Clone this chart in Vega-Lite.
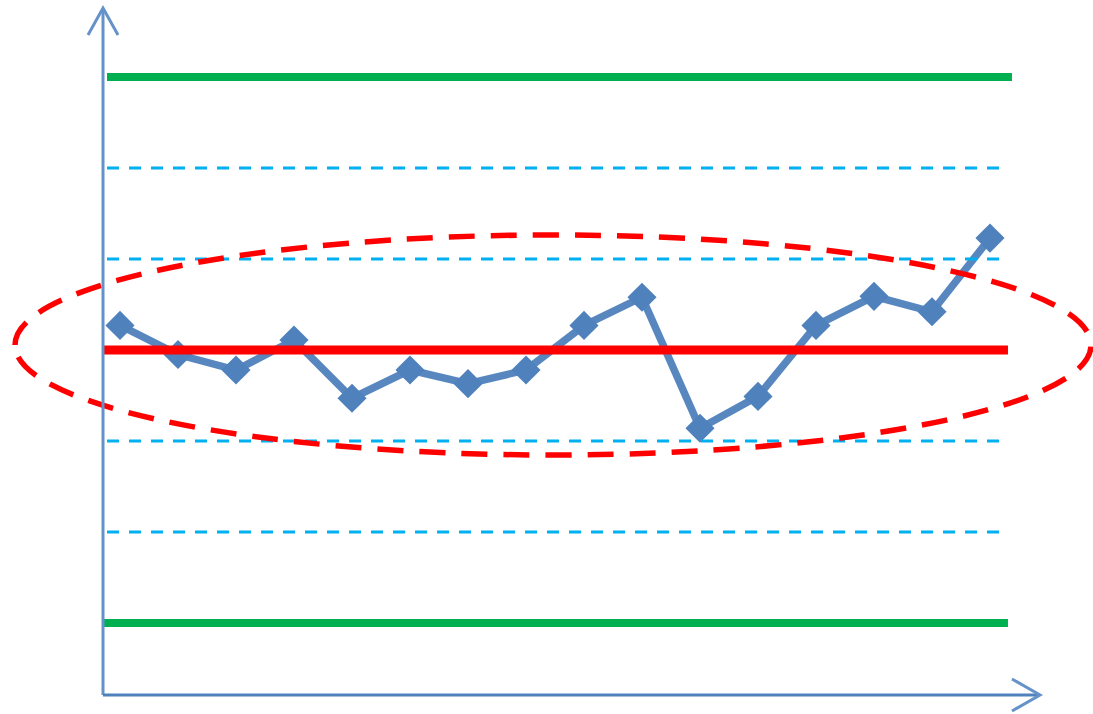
{
  "$schema": "https://vega.github.io/schema/vega-lite/v6.json",
  "width": 1093,
  "height": 714,
  "padding": 0,
  "autosize": {"type": "none"},
  "background": "white",
  "config": {"view": {"stroke": null}},
  "encoding": {
    "x": {"field": "x", "type": "quantitative", "scale": {"domain": [-1.069, 17.776], "nice": false, "zero": false}, "axis": null},
    "y": {"field": "y", "type": "quantitative", "scale": {"domain": [-4.0, 3.846], "nice": false, "zero": false}, "axis": null}
  },
  "layer": [
    {
      "data": {"values": [
        {"x": 1, "y": 0.27}, {"x": 2, "y": -0.05}, {"x": 3, "y": -0.22}, {"x": 4, "y": 0.11},
        {"x": 5, "y": -0.53}, {"x": 6, "y": -0.22}, {"x": 7, "y": -0.37}, {"x": 8, "y": -0.22},
        {"x": 9, "y": 0.27}, {"x": 10, "y": 0.58}, {"x": 11, "y": -0.86}, {"x": 12, "y": -0.51},
        {"x": 13, "y": 0.27}, {"x": 14, "y": 0.59}, {"x": 15, "y": 0.42}, {"x": 16, "y": 1.23}
      ]},
      "layer": [
        {"mark": {"type": "line", "color": "#4f81bd", "strokeWidth": 7.5, "opacity": 0.95}},
        {"mark": {"type": "point", "shape": "diamond", "filled": true, "size": 850, "color": "#4f81bd", "opacity": 1}}
      ]
    },
    {
      "data": {"values": [
        {"x": 0.776, "x2": 16.259, "y": 2},
        {"x": 0.776, "x2": 16.259, "y": 1},
        {"x": 0.776, "x2": 16.259, "y": -1},
        {"x": 0.776, "x2": 16.259, "y": -2}
      ]},
      "mark": {"type": "rule", "color": "#00b0f0", "strokeWidth": 3, "strokeDash": [12, 10]},
      "encoding": {"x2": {"field": "x2"}}
    },
    {
      "data": {"values": [{"x": 0.707, "x2": 16.31, "y": 0}]},
      "mark": {"type": "rule", "color": "#ff0000", "strokeWidth": 9},
      "encoding": {"x2": {"field": "x2"}}
    },
    {
      "data": {"values": [
        {"x": 0.776, "x2": 16.379, "y": 3},
        {"x": 0.707, "x2": 16.31, "y": -3}
      ]},
      "mark": {"type": "rule", "color": "#00b050", "strokeWidth": 8},
      "encoding": {"x2": {"field": "x2"}}
    },
    {
      "data": {"values": [{"x": 8.466, "y": 0.055}]},
      "mark": {
        "type": "point",
        "shape": "M -1 0 C -1 -0.1129 -0.5523 -0.2045 0 -0.2045 C 0.5523 -0.2045 1 -0.1129 1 0 C 1 0.1129 0.5523 0.2045 0 0.2045 C -0.5523 0.2045 -1 0.1129 -1 0 Z",
        "size": 1157776,
        "filled": false,
        "stroke": "#ff0000",
        "strokeWidth": 5.5,
        "strokeDash": [26, 16],
        "opacity": 1
      }
    },
    {
      "data": {"values": [{"x": 0.707, "y": -3.791, "y2": 3.758}]},
      "mark": {"type": "rule", "color": "#6592c9", "strokeWidth": 3},
      "encoding": {"y2": {"field": "y2"}}
    },
    {
      "data": {"values": [{"x": 0.707, "x2": 16.862, "y": -3.791}]},
      "mark": {"type": "rule", "color": "#4f81bd", "strokeWidth": 3},
      "encoding": {"x2": {"field": "x2"}}
    },
    {
      "data": {"values": [{"x": 0.707, "y": 3.758}]},
      "mark": {"type": "point", "shape": "M -1 1.8 L 0 0 L 1 1.8", "size": 900, "filled": false, "stroke": "#6592c9", "strokeWidth": 3, "opacity": 1}
    },
    {
      "data": {"values": [{"x": 16.862, "y": -3.791}]},
      "mark": {"type": "point", "shape": "M -1.75 -1 L 0 0 L -1.75 1", "size": 1024, "filled": false, "stroke": "#6592c9", "strokeWidth": 3, "opacity": 1}
    }
  ]
}
